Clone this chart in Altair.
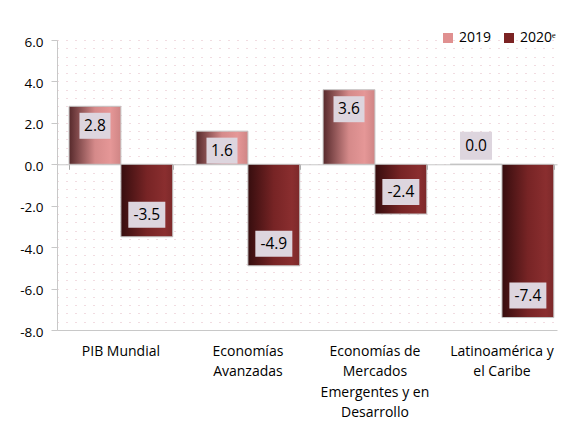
import altair as alt
import pandas as pd
import numpy as np

# ---- data ----
categorias = [
    "PIB Mundial",
    "Economías|Avanzadas",
    "Economías de|Mercados|Emergentes y en|Desarrollo",
    "Latinoamérica y|el Caribe",
]
serie_2019 = [2.8, 1.6, 3.6, 0.0]
serie_2020 = [-3.5, -4.9, -2.4, -7.4]
series = ["2019", "2020ᵉ"]
y_dominio = [-8, 6]

rows = []
for c, a, b in zip(categorias, serie_2019, serie_2020):
    rows.append({"cat": c, "serie": series[0], "valor": a})
    rows.append({"cat": c, "serie": series[1], "valor": b})
df = pd.DataFrame(rows)

FONT = "Open Sans"
MINUS = "\u2212"
W, H = 500, 290

# fine values used only for the dotted background grid
grid_vals = [round(v, 2) for v in np.arange(-8, 6.001, 0.4)]
zero_offset = -H * (0 - y_dominio[0]) / (y_dominio[1] - y_dominio[0])

x_scale = alt.Scale(domain=categorias, paddingInner=0.1836, paddingOuter=0.06,
                    align=0.79)
x_plain = alt.X("cat:N", sort=categorias, scale=x_scale, axis=None)
x_main = alt.X(
    "cat:N", sort=categorias, scale=x_scale,
    axis=alt.Axis(
        title=None, orient="bottom", labelExpr="split(datum.label, '|')",
        labelAngle=0, ticks=False, domain=True, domainColor="#c8c8c8",
        labelFont=FONT, labelFontSize=14, labelColor="#000000",
        labelPadding=14, labelLineHeight=20.5, labelBaseline="top",
        grid=False, labelLimit=200,
    ),
)
x_zero = alt.X(
    "cat:N", sort=categorias, scale=x_scale,
    axis=alt.Axis(
        title=None, orient="bottom", offset=zero_offset, labels=False,
        ticks=True, tickBand="extent", tickSize=5, tickWidth=1,
        tickColor="#a8a8a8", domain=True, domainColor="#c8c8c8", grid=False,
    ),
)
xoff = alt.XOffset("serie:N", scale=alt.Scale(domain=series, paddingInner=0, paddingOuter=0))

y_scale = alt.Scale(domain=y_dominio, nice=False, zero=False)
is_major = "abs(datum.value/2 - round(datum.value/2)) < 0.001"
y_axis = alt.Axis(
    title=None, values=grid_vals,
    labelExpr=f"{is_major} ? replace(format(datum.value, '.1f'), '{MINUS}', '-') : ''",
    labelFont=FONT, labelFontSize=13.5, labelColor="#000000", labelPadding=8,
    labelOffset=2,
    tickSize=6, tickColor="#c8c8c8",
    tickOpacity={"condition": {"test": is_major, "value": 1}, "value": 0},
    domain=True, domainColor="#c8c8c8",
    grid=True, gridColor="#e3b9c3", gridDash=[1, 8], gridWidth=1,
)
y_main = alt.Y("valor:Q", scale=y_scale, axis=y_axis)

base = alt.Chart(df)

grad_2019 = alt.Gradient(
    gradient="linear", x1=0, x2=1, y1=0, y2=0,
    stops=[
        alt.GradientStop(offset=0, color="#56292b"),
        alt.GradientStop(offset=0.5, color="#d58a8a"),
        alt.GradientStop(offset=0.8, color="#e59797"),
        alt.GradientStop(offset=1, color="#cf8585"),
    ],
)
grad_2020 = alt.Gradient(
    gradient="linear", x1=0, x2=1, y1=0, y2=0,
    stops=[
        alt.GradientStop(offset=0, color="#360d0e"),
        alt.GradientStop(offset=0.5, color="#772425"),
        alt.GradientStop(offset=0.85, color="#8a2e2f"),
        alt.GradientStop(offset=1, color="#7c292a"),
    ],
)

bars_2019 = base.transform_filter(alt.datum.serie == series[0]).mark_bar(
    fill=grad_2019, stroke="#c4c4c4", strokeWidth=1
).encode(x=x_main, xOffset=xoff, y=y_main, y2=alt.datum(0))

bars_2020 = base.transform_filter(alt.datum.serie == series[1]).mark_bar(
    fill=grad_2020, stroke="#c4c4c4", strokeWidth=1
).encode(x=x_plain, xOffset=xoff, y=y_main, y2=alt.datum(0))

# legend (invisible marks, visible legend symbols)
legend_layer = base.mark_square(opacity=0, size=1).encode(
    x=x_plain, xOffset=xoff, y=y_main,
    color=alt.Color(
        "serie:N", scale=alt.Scale(domain=series, range=["#e09090", "#7b2323"]),
        legend=alt.Legend(
            title=None, orient="none", legendX=384, legendY=-9,
            direction="horizontal", symbolType="square", symbolSize=100,
            symbolOpacity=1, symbolStrokeWidth=0, labelFont=FONT,
            labelFontSize=14, labelColor="#000000", columnPadding=10,
            labelOffset=4,
        ),
    ),
)

# label boxes and texts
box_color = "#ddd5de"
pos_path = "M-1.55,0.65L1.55,0.65L1.55,3.25L-1.55,3.25Z"
neg_path = "M-1.85,-3.5L1.85,-3.5L1.85,-0.9L-1.85,-0.9Z"
zero_path = "M-1.6,-3.25L1.6,-3.25L1.6,-0.45L-1.6,-0.45Z"

labeled = base.transform_calculate(
    txt=f"replace(format(datum.valor, '.1f'), '{MINUS}', '-')"
)

def label_layers(cond, path, dy):
    sub = labeled.transform_filter(cond)
    box = sub.mark_point(shape=path, size=400, filled=True, fill=box_color,
                         opacity=1, strokeWidth=0).encode(
        x=x_plain, xOffset=xoff, y=y_main)
    txt = sub.mark_text(font=FONT, fontSize=15.5, color="#000000", dy=dy,
                        baseline="middle", align="center").encode(
        x=x_plain, xOffset=xoff, y=y_main, text="txt:N")
    return [box, txt]

layers_pos = label_layers("datum.valor > 0", pos_path, 19.5)
layers_neg = label_layers("datum.valor < 0", neg_path, -22)
layers_zero = label_layers("datum.valor == 0", zero_path, -18.5)

zero_axis_layer = base.mark_bar(opacity=0).encode(
    x=x_zero, xOffset=xoff, y=y_main, y2=alt.datum(0))

chart = alt.layer(
    bars_2019, bars_2020, zero_axis_layer, legend_layer,
    *layers_pos, *layers_neg, *layers_zero,
).resolve_axis(x="independent").properties(
    width=W, height=H,
    autosize=alt.AutoSizeParams(type="none"),
    padding={"left": 49, "top": 32, "right": 2, "bottom": 92},
).configure_view(stroke=None)

chart.save("out.html", embed_options={"renderer": "svg", "actions": False})
